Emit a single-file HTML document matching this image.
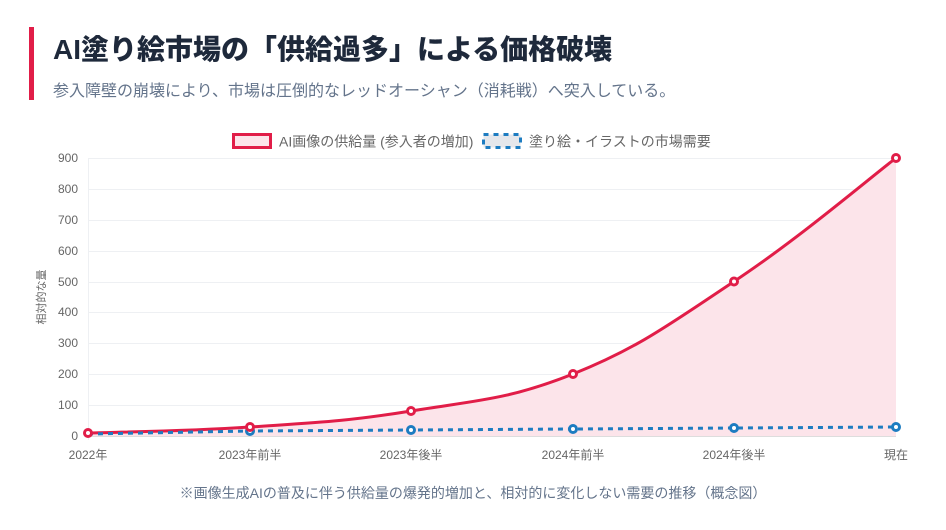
<!DOCTYPE html>
<html><head><meta charset="utf-8"><style>
body{margin:0;background:#fff;width:946px;height:530px;overflow:hidden;font-family:"Liberation Sans","Noto Sans CJK JP",sans-serif;}
.bar{position:absolute;left:29px;top:27px;width:5px;height:73px;background:#e11d48;}
h1{position:absolute;left:53px;top:28px;margin:0;font-size:28px;font-weight:900;color:#1e293b;letter-spacing:0px;}
.sub{position:absolute;left:53px;top:77px;font-size:16px;color:#64748b;}
svg{position:absolute;left:0;top:0;}
</style></head><body>
<div class="bar"></div>
<h1>AI塗り絵市場の「供給過多」による価格破壊</h1>
<div class="sub">参入障壁の崩壊により、市場は圧倒的なレッドオーシャン（消耗戦）へ突入している。</div>
<svg width="946" height="530" font-family="Liberation Sans, Noto Sans CJK JP, sans-serif">
<g stroke="#eef0f3" stroke-width="1">
<line x1="88" y1="158.5" x2="896" y2="158.5"/><line x1="88" y1="189.5" x2="896" y2="189.5"/><line x1="88" y1="220.5" x2="896" y2="220.5"/><line x1="88" y1="251.5" x2="896" y2="251.5"/><line x1="88" y1="282.5" x2="896" y2="282.5"/><line x1="88" y1="312.5" x2="896" y2="312.5"/><line x1="88" y1="343.5" x2="896" y2="343.5"/><line x1="88" y1="374.5" x2="896" y2="374.5"/><line x1="88" y1="405.5" x2="896" y2="405.5"/>
<line x1="88.5" y1="158" x2="88.5" y2="440"/>
</g>
<line x1="88" y1="436.5" x2="896" y2="436.5" stroke="#ddd"/>
<g font-size="12" fill="#666" text-anchor="end">
<text x="78" y="162">900</text><text x="78" y="193">800</text><text x="78" y="224">700</text><text x="78" y="255">600</text><text x="78" y="286">500</text><text x="78" y="316">400</text><text x="78" y="347">300</text><text x="78" y="378">200</text><text x="78" y="409">100</text><text x="78" y="440">0</text>
</g>
<g font-size="12" fill="#666" text-anchor="middle">
<text x="88" y="459">2022年</text><text x="250" y="459">2023年前半</text><text x="411" y="459">2023年後半</text><text x="573" y="459">2024年前半</text><text x="734" y="459">2024年後半</text><text x="896" y="459">現在</text>
</g>
<text transform="translate(45,297) rotate(-90)" font-size="11" fill="#666" text-anchor="middle">相対的な量</text>
<path d="M88,433 C120,432 185,431.4 250,427 C315,422.6 346,421.6 411,411 C476,400.4 508,399.9 573,374 C638,348 669,324.7 734,281.5 C799,238.3 864,182.7 896,158 L896,436 L88,436 Z" fill="#fce4ea"/>
<path d="M88,433 C120,432 185,431.4 250,427 C315,422.6 346,421.6 411,411 C476,400.4 508,399.9 573,374 C638,348 669,324.7 734,281.5 C799,238.3 864,182.7 896,158" fill="none" stroke="#e11d48" stroke-width="3"/>
<polyline points="88,434 250,431 411,430 573,429 734,428 896,427" fill="none" stroke="#1d7cc1" stroke-width="3" stroke-dasharray="5,5"/>
<g fill="#fff" stroke="#1d7cc1" stroke-width="3">
<circle cx="250" cy="431" r="3.5"/><circle cx="411" cy="430" r="3.5"/><circle cx="573" cy="429" r="3.5"/><circle cx="734" cy="428" r="3.5"/><circle cx="896" cy="427" r="3.5"/>
</g>
<g fill="#fff" stroke="#e11d48" stroke-width="3">
<circle cx="88" cy="433" r="3.5"/><circle cx="250" cy="427" r="3.5"/><circle cx="411" cy="411" r="3.5"/><circle cx="573" cy="374" r="3.5"/><circle cx="734" cy="281.5" r="3.5"/><circle cx="896" cy="158" r="3.5"/>
</g>
<rect x="233.5" y="134.5" width="37" height="13" fill="#fce4ea" stroke="#e11d48" stroke-width="3"/>
<text x="279" y="146.5" font-size="14" fill="#666">AI画像の供給量 (参入者の増加)</text>
<rect x="483.5" y="134.5" width="37" height="13" fill="#e5e7eb" stroke="#1d7cc1" stroke-width="3" stroke-dasharray="5,5"/>
<text x="529" y="146.5" font-size="14" fill="#666">塗り絵・イラストの市場需要</text>
<text x="473" y="498" font-size="14" fill="#64748b" text-anchor="middle">※画像生成AIの普及に伴う供給量の爆発的増加と、相対的に変化しない需要の推移（概念図）</text>
</svg>
</body></html>
